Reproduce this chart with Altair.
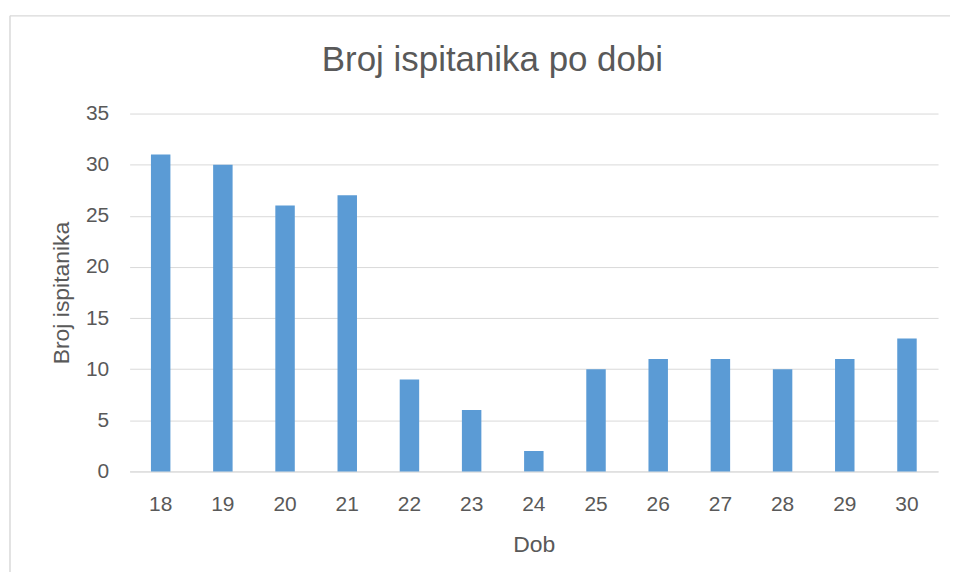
import altair as alt
import pandas as pd

ages = ["18", "19", "20", "21", "22", "23", "24", "25", "26", "27", "28", "29", "30"]
counts = [31, 30, 26, 27, 9, 6, 2, 10, 11, 11, 10, 11, 13]
title_text = ["Broj ispitanika po dobi"]

df = pd.DataFrame({"Dob": ages, "Broj": counts})

FONT = "Liberation Sans"
TXT = "#595959"
FRAME = "#d9d9d9"

bars = alt.Chart(df).mark_bar(color="#5b9bd5").encode(
    x=alt.X("Dob:N", sort=ages, title="Dob",
            scale=alt.Scale(paddingInner=0.687, paddingOuter=0.343),
            axis=alt.Axis(labelAngle=0, labelPadding=22, titlePadding=19,
                          ticks=False, domainColor="#d9d9d9", grid=False)),
    y=alt.Y("Broj:Q", title="Broj ispitanika",
            scale=alt.Scale(domain=[0, 35]),
            axis=alt.Axis(values=[0, 5, 10, 15, 20, 25, 30, 35], ticks=False,
                          domain=False, gridColor="#d9d9d9", labelPadding=21,
                          titlePadding=12)),
)

one = pd.DataFrame({"a": [0]})
frame_top = alt.Chart(one).mark_rule(color=FRAME, strokeWidth=1.5).encode(
    x=alt.value(-120), x2=alt.value(900), y=alt.value(-98)
)
frame_left = alt.Chart(one).mark_rule(color=FRAME, strokeWidth=1.5).encode(
    x=alt.value(-120), y=alt.value(-98), y2=alt.value(520)
)

title = alt.Chart(pd.DataFrame({"t": title_text})).mark_text(
    font=FONT, fontSize=35, color=TXT, align="center", baseline="alphabetic"
).encode(text="t:N", x=alt.value(364), y=alt.value(-43))

chart = alt.layer(frame_top, frame_left, title, bars).properties(
    width=811, height=359,
    padding={"left": 122, "top": 105, "right": 12, "bottom": 100},
    autosize=alt.AutoSizeParams(type="none"),
).configure_view(strokeWidth=0).configure_axis(
    labelFont=FONT, titleFont=FONT, labelFontSize=21, titleFontSize=23,
    labelColor=TXT, titleColor=TXT, titleFontWeight="normal"
)

chart.save("out.html", embed_options={"renderer": "svg", "actions": False})
